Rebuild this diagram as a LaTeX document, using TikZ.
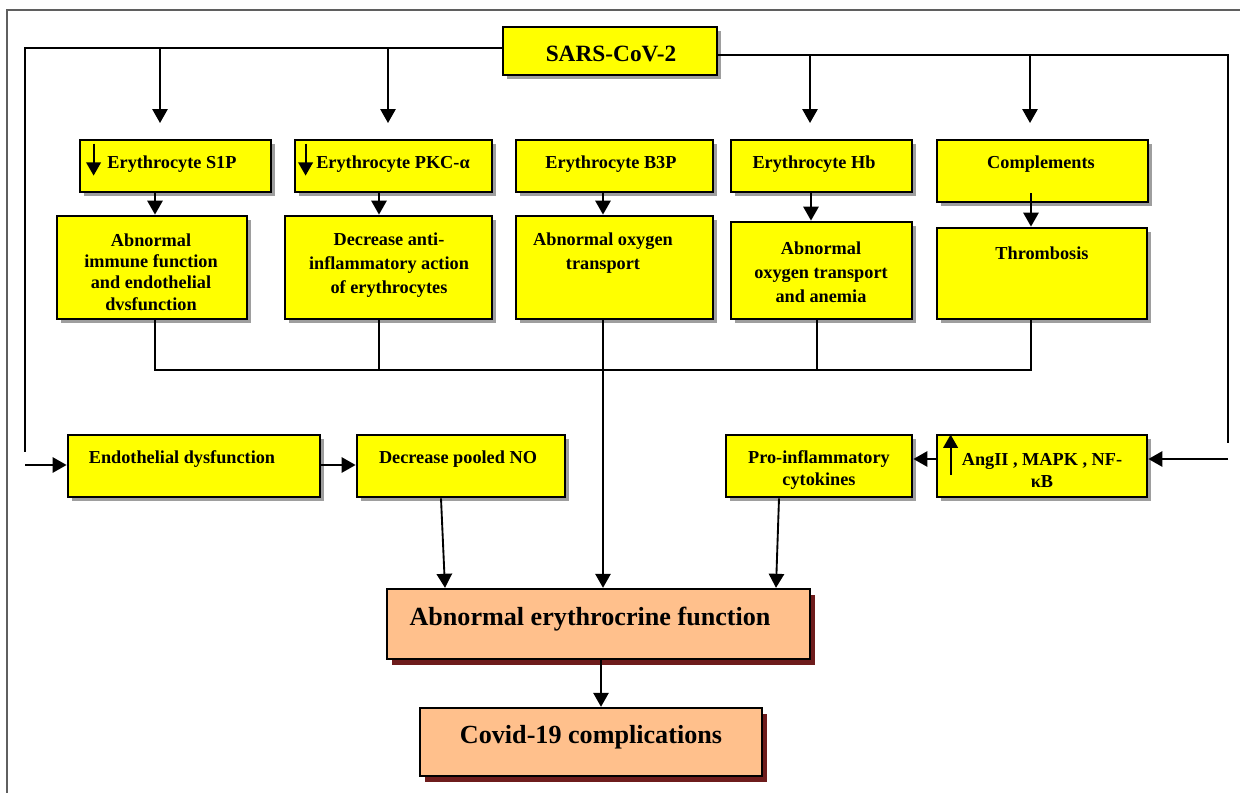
\documentclass[tikz,border=0pt]{standalone}
\usepackage{fontspec}
\setmainfont{Liberation Serif}
\usetikzlibrary{arrows.meta,shadows,fit}
\definecolor{ylw}{RGB}{255,255,0}
\definecolor{peach}{RGB}{255,192,140}
\definecolor{dred}{RGB}{110,28,28}
\definecolor{framegray}{RGB}{95,95,95}
\begin{document}
\begin{tikzpicture}[x=0.75pt,y=-0.75pt,
 ybox/.style={draw=black, line width=2.1pt, fill=ylw, inner sep=0pt,
   general shadow={fill=black!38, shadow xshift=3pt, shadow yshift=-3pt}},
 pbox/.style={draw=black, line width=1.8pt, fill=peach, inner sep=0pt,
   general shadow={fill=dred, shadow xshift=3.5pt, shadow yshift=-4.5pt}},
 txt/.style={font=\bfseries\fontsize{13.7}{#1}\selectfont, align=center, inner sep=0pt},
 txt/.default=16.5,
 big/.style={font=\bfseries\fontsize{#1}{23}\selectfont, inner sep=0pt},
 big/.default=19.6,
 ln/.style={line width=1.4pt},
 arr/.style={line width=1.4pt, -{Triangle[length=10.5pt,width=11.5pt]}},
 inarr/.style={line width=1.5pt, -{Triangle[length=10pt,width=11pt]}},
 frame/.style={draw=framegray, line width=1.4pt}
]
\useasboundingbox (0,0) rectangle (1240,793);
\draw[frame] (7,793) -- (7,10) -- (1240,10);

% boxes
\node[ybox, fit={(503,27) (717,75)}] (sars) {};
\node[ybox, fit={(80,140) (271,192)}] (s1p) {};
\node[ybox, fit={(295,140) (492,192)}] (pkc) {};
\node[ybox, fit={(516,140) (713,192)}] (b3p) {};
\node[ybox, fit={(731,140) (912,192)}] (hb) {};
\node[ybox, fit={(937,140) (1148,202)}] (comp) {};
\node[ybox, fit={(57,216) (247,319)}] (imm) {};
\node[ybox, fit={(285,216) (492,319)}] (dec) {};
\node[ybox, fit={(516,216) (713,319)}] (oxy) {};
\node[ybox, fit={(731,222) (912,319)}] (ane) {};
\node[ybox, fit={(937,228) (1147,319)}] (thr) {};
\node[ybox, fit={(68,435) (320,497)}] (endo) {};
\node[ybox, fit={(357,435) (565,497)}] (no) {};
\node[ybox, fit={(726,435) (912,497)}] (pro) {};
\node[ybox, fit={(937,435) (1147,497)}] (ang) {};
\node[pbox, fit={(387,589) (810,659)}] (ery) {};
\node[pbox, fit={(420,708) (762,776)}] (cov) {};

% texts
\node[big=17.5] (sarsT) at (611,54) {SARS-CoV-2};
\node[txt] (s1pT) at (172,164) {Erythrocyte S1P};
\node[txt] (pkcT) at (393,164) {Erythrocyte PKC-α};
\node[txt] (b3pT) at (611,164) {Erythrocyte B3P};
\node[txt] (hbT) at (814,164) {Erythrocyte Hb};
\node[txt] (compT) at (1041,164) {Complements};
\node[txt=15.9] (immT) at (151,272) {Abnormal\\immune function\\and endothelial\\dvsfunction};
\node[txt=18] (decT) at (389,265) {Decrease anti-\\inflammatory action\\of erythrocytes};
\node[txt=18] (oxyT) at (603,253) {Abnormal oxygen\\transport};
\node[txt=18] (aneT) at (821,272) {Abnormal\\oxygen transport\\and anemia};
\node[txt] (thrT) at (1042,253) {Thrombosis};
\node[txt] (endoT) at (182,459) {Endothelial dysfunction};
\node[txt] (noT) at (458,459) {Decrease pooled NO};
\node[txt] (proT) at (819,470) {Pro-inflammatory\\cytokines};
\node[txt] (angT) at (1042,470) {AngII , MAPK , NF-\\κB};
\node[big] (eryT) at (590,619) {Abnormal erythrocrine function};
\node[big] (covT) at (591,737) {Covid-19 complications};

% named points of the buses
\coordinate (busL) at (25,48);
\coordinate (busLend) at (25,452);
\coordinate (busR) at (1228,55);
\coordinate (busRend) at (1228,443);
\coordinate (busB) at (0,370);
\coordinate (tips) at (0,123);
\coordinate (eIn) at (25,465);
\coordinate (aIn) at (1228,459);
\coordinate (x155) at (155,0);
\coordinate (x160) at (160,0);
\coordinate (x379) at (379,0);
\coordinate (x388) at (388,0);
\coordinate (x441) at (441,0);
\coordinate (x445) at (445,0);
\coordinate (x601) at (601,0);
\coordinate (x603) at (603,0);
\coordinate (x776) at (776,0);
\coordinate (x779) at (779,0);
\coordinate (x810) at (810,0);
\coordinate (x811) at (811,0);
\coordinate (x817) at (817,0);
\coordinate (x1030) at (1030,0);
\coordinate (x1031) at (1031,0);

% top buses
\draw[ln] (sars.west |- busL) -- (busL) -- (busLend);
\draw[ln] (sars.east |- busR) -- (busR) -- (busRend);
\draw[arr] (x160 |- busL) -- (x160 |- tips);
\draw[arr] (x388 |- busL) -- (x388 |- tips);
\draw[arr] (x810 |- busR) -- (x810 |- tips);
\draw[arr] (x1030 |- busR) -- (x1030 |- tips);

% first row to second row
\draw[arr] (x155 |- s1p.south) -- (x155 |- imm.north);
\draw[arr] (x379 |- pkc.south) -- (x379 |- dec.north);
\draw[arr] (x603 |- b3p.south) -- (x603 |- oxy.north);
\draw[arr] (x811 |- hb.south) -- (x811 |- ane.north);
\draw[arr] (x1031 |- hb.south) -- (x1031 |- thr.north);

% bottom bus of second row
\draw[ln] (x155 |- imm.south) |- (x1031 |- busB) -- (x1031 |- thr.south);
\draw[ln] (x379 |- dec.south) -- (x379 |- busB);
\draw[ln] (x817 |- ane.south) -- (x817 |- busB);

% third row
\draw[arr] (eIn) -- (eIn -| endo.west);
\draw[arr] (endo.east |- eIn) -- (no.west |- eIn);
\draw[arr] (aIn) -- (aIn -| ang.east);
\draw[arr] (ang.west |- aIn) -- (pro.east |- aIn);

% into erythrocrine box
\draw[arr] (x441 |- no.south) -- (x445 |- ery.north);
\draw[arr] (x603 |- oxy.south) -- (x603 |- ery.north);
\draw[arr] (x779 |- pro.south) -- (x776 |- ery.north);
\draw[arr] (x601 |- ery.south) -- (x601 |- cov.north);

% arrows drawn inside boxes
\draw[inarr] ([shift={(15,5)}]s1p.north west) -- ++(0,32);
\draw[inarr] ([shift={(12,5)}]pkc.north west) -- ++(0,32);
\draw[inarr] ([shift={(15,41)}]ang.north west) -- ++(0,-40);
\end{tikzpicture}
\end{document}
